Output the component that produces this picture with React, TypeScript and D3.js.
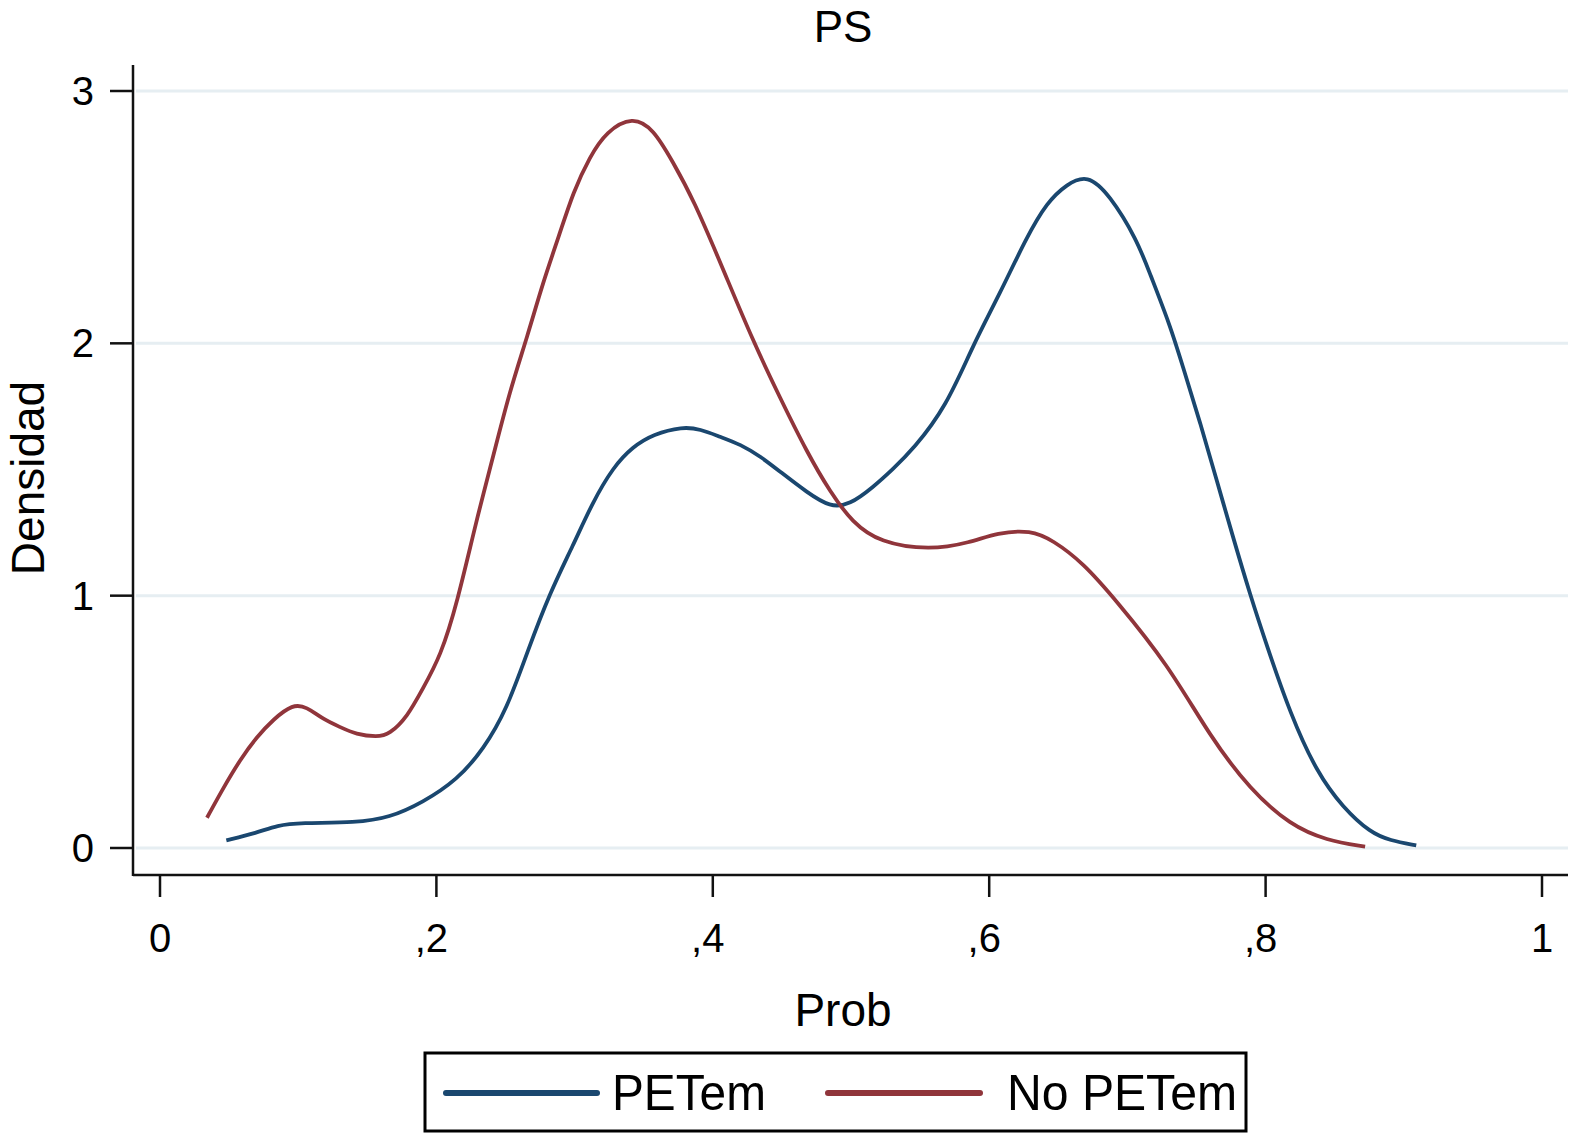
import React, { useRef, useEffect } from "react";
import * as d3 from "d3";

// density curves
const petemX = [0.048, 0.07, 0.085, 0.101, 0.142, 0.166, 0.19, 0.215, 0.234, 0.251, 0.266, 0.282, 0.299, 0.313, 0.328, 0.342, 0.357, 0.378, 0.391, 0.405, 0.42, 0.435, 0.449, 0.468, 0.485, 0.499, 0.516, 0.53, 0.545, 0.569, 0.588, 0.608, 0.627, 0.642, 0.656, 0.671, 0.687, 0.707, 0.716, 0.731, 0.74, 0.753, 0.765, 0.776, 0.789, 0.801, 0.818, 0.837, 0.856, 0.876, 0.89, 0.909];
const petemY = [0.03, 0.06, 0.09, 0.1, 0.1, 0.12, 0.18, 0.27, 0.39, 0.55, 0.78, 1.01, 1.2, 1.37, 1.51, 1.59, 1.64, 1.67, 1.66, 1.63, 1.6, 1.55, 1.49, 1.41, 1.35, 1.36, 1.43, 1.5, 1.58, 1.75, 1.99, 2.2, 2.42, 2.56, 2.63, 2.67, 2.59, 2.41, 2.28, 2.07, 1.91, 1.68, 1.45, 1.24, 1.0, 0.8, 0.53, 0.3, 0.16, 0.06, 0.03, 0.01];

const noPetemX = [0.034, 0.046, 0.058, 0.07, 0.082, 0.096, 0.106, 0.118, 0.13, 0.142, 0.157, 0.166, 0.179, 0.19, 0.203, 0.215, 0.229, 0.241, 0.253, 0.266, 0.277, 0.289, 0.299, 0.311, 0.323, 0.342, 0.357, 0.371, 0.386, 0.407, 0.429, 0.449, 0.468, 0.485, 0.501, 0.521, 0.557, 0.586, 0.606, 0.63, 0.646, 0.668, 0.692, 0.729, 0.76, 0.789, 0.818, 0.844, 0.872];
const noPetemY = [0.12, 0.24, 0.35, 0.44, 0.51, 0.57, 0.56, 0.51, 0.48, 0.45, 0.44, 0.45, 0.52, 0.63, 0.76, 0.97, 1.3, 1.55, 1.81, 2.03, 2.24, 2.43, 2.6, 2.74, 2.84, 2.9, 2.85, 2.72, 2.57, 2.3, 2.01, 1.78, 1.57, 1.41, 1.29, 1.21, 1.18, 1.21, 1.25, 1.26, 1.22, 1.13, 0.98, 0.73, 0.44, 0.23, 0.09, 0.03, 0.005];

const xTicks = [0, 0.2, 0.4, 0.6, 0.8, 1];
const yTicks = [0, 1, 2, 3];
const legendLabels = ["PETem", "No PETem"];

const BLUE = "#1a476f";
const RED = "#90353b";
const FONT = "'Liberation Sans', Arial, Helvetica, sans-serif";

const fmtX = (d: number) => (d === 0 ? "0" : d === 1 ? "1" : "," + Math.round(d * 10));

export default function App() {
  const svgRef = useRef<SVGSVGElement | null>(null);

  useEffect(() => {
    if (!svgRef.current) return;
    const svg = d3.select(svgRef.current);
    svg.selectAll("*").remove();

    const x = d3.scaleLinear().domain([0, 1]).range([160, 1542]);
    const y = d3.scaleLinear().domain([0, 3]).range([848, 91]);
    const left = 133, right = 1568, top = 65, bottom = 875;

    svg.append("rect").attr("width", 1572).attr("height", 1135).attr("fill", "#fff");

    // gridlines
    svg
      .selectAll(".grid")
      .data(yTicks)
      .enter()
      .append("line")
      .attr("x1", left + 3)
      .attr("x2", right)
      .attr("y1", (d) => y(d))
      .attr("y2", (d) => y(d))
      .attr("stroke", "#e6eef2")
      .attr("stroke-width", 3);

    // axes
    svg.append("line").attr("x1", left).attr("x2", left).attr("y1", top).attr("y2", bottom + 1)
      .attr("stroke", "#111").attr("stroke-width", 2.5);
    svg.append("line").attr("x1", left).attr("x2", right).attr("y1", bottom).attr("y2", bottom)
      .attr("stroke", "#111").attr("stroke-width", 2.5);

    svg.selectAll(".ytick").data(yTicks).enter().append("line")
      .attr("x1", 110).attr("x2", left).attr("y1", (d) => y(d)).attr("y2", (d) => y(d))
      .attr("stroke", "#111").attr("stroke-width", 2.5);
    svg.selectAll(".ylab").data(yTicks).enter().append("text")
      .attr("x", 94).attr("y", (d) => y(d) + 14).attr("text-anchor", "end")
      .attr("font-family", FONT).attr("font-size", 40).text((d) => String(d));

    svg.selectAll(".xtick").data(xTicks).enter().append("line")
      .attr("x1", (d) => x(d)).attr("x2", (d) => x(d)).attr("y1", bottom).attr("y2", 897)
      .attr("stroke", "#111").attr("stroke-width", 2.5);
    svg.selectAll(".xlab").data(xTicks).enter().append("text")
      .attr("x", (d) => x(d) - (d > 0 && d < 1 ? 5 : 0)).attr("y", 952).attr("text-anchor", "middle")
      .attr("font-family", FONT).attr("font-size", 40).text((d) => fmtX(d));

    // titles
    svg.append("text").attr("x", 843).attr("y", 42).attr("text-anchor", "middle")
      .attr("font-family", FONT).attr("font-size", 44).text("PS");
    svg.append("text").attr("x", 843).attr("y", 1026).attr("text-anchor", "middle")
      .attr("font-family", FONT).attr("font-size", 46).text("Prob");
    svg.append("text").attr("transform", "translate(44,478) rotate(-90)").attr("text-anchor", "middle")
      .attr("font-family", FONT).attr("font-size", 46).text("Densidad");

    // curves
    const line = d3.line<[number, number]>()
      .x((d) => x(d[0]))
      .y((d) => y(d[1]))
      .curve(d3.curveBasis);

    const series = [
      { xs: petemX, ys: petemY, color: BLUE },
      { xs: noPetemX, ys: noPetemY, color: RED },
    ];
    series.forEach((s) => {
      const pts = s.xs.map((v, i) => [v, s.ys[i]] as [number, number]);
      svg.append("path").attr("d", line(pts)).attr("fill", "none")
        .attr("stroke", s.color).attr("stroke-width", 3.8).attr("stroke-linejoin", "round");
    });

    // legend
    const lg = svg.append("g");
    lg.append("rect").attr("x", 425).attr("y", 1053).attr("width", 821).attr("height", 78)
      .attr("fill", "#fff").attr("stroke", "#000").attr("stroke-width", 3);
    const items = [
      { label: legendLabels[0], color: BLUE, x1: 446, x2: 597, tx: 612, tw: 154 },
      { label: legendLabels[1], color: RED, x1: 828, x2: 980, tx: 1007, tw: 230 },
    ];
    items.forEach((it) => {
      lg.append("line").attr("x1", it.x1).attr("x2", it.x2).attr("y1", 1093).attr("y2", 1093)
        .attr("stroke", it.color).attr("stroke-width", 6).attr("stroke-linecap", "round");
      lg.append("text").attr("x", it.tx).attr("y", 1110).attr("font-family", FONT)
        .attr("font-size", 50).attr("textLength", it.tw).attr("lengthAdjust", "spacingAndGlyphs")
        .text(it.label);
    });
  }, []);

  return (
    <div>
      <svg
        ref={svgRef}
        width={1572}
        height={1135}
        style={{ position: "absolute", left: 0, top: 0 }}
      ></svg>
    </div>
  );
}
